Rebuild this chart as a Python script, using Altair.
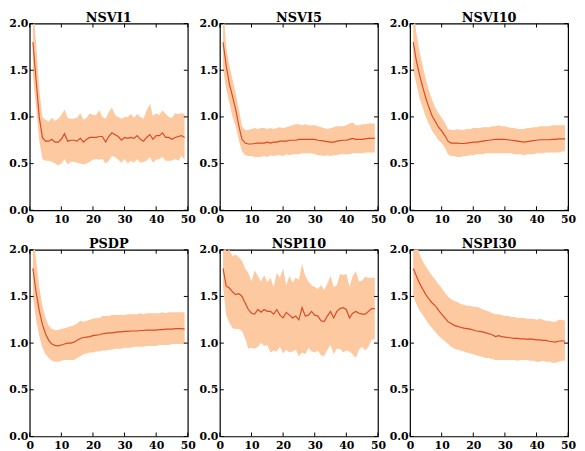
import altair as alt
import pandas as pd

x_vals = list(range(1, 50))
x_ticks = [0, 10, 20, 30, 40, 50]
y_ticks = [0.0, 0.5, 1.0, 1.5, 2.0]

titles = ["NSVI1", "NSVI5", "NSVI10", "PSDP", "NSPI10", "NSPI30"]

nsvi1_mean = [1.8, 1.4, 1.0, 0.78, 0.74, 0.74, 0.76, 0.73, 0.73, 0.76, 0.82, 0.74, 0.75, 0.75, 0.74, 0.77, 0.73,
              0.76, 0.78, 0.78, 0.78, 0.79, 0.79, 0.73, 0.79, 0.83, 0.81, 0.79, 0.75, 0.78, 0.77, 0.78, 0.77, 0.80,
              0.76, 0.74, 0.78, 0.81, 0.76, 0.80, 0.80, 0.83, 0.78, 0.78, 0.76, 0.78, 0.79, 0.80, 0.78]
nsvi1_hi = [2.2, 1.8, 1.3, 1.0, 0.97, 0.95, 0.99, 0.96, 0.98, 1.02, 1.08, 0.99, 0.98, 0.98, 0.99, 1.04, 0.97,
            0.99, 1.04, 1.02, 1.02, 1.07, 1.00, 0.98, 1.05, 1.10, 1.02, 1.00, 0.98, 1.00, 1.00, 1.03, 0.99, 1.03,
            1.00, 0.98, 1.07, 1.14, 1.01, 1.04, 1.02, 1.07, 1.03, 1.00, 0.99, 1.04, 1.03, 1.04, 1.03]
nsvi1_lo = [1.45, 1.1, 0.75, 0.55, 0.53, 0.53, 0.52, 0.50, 0.48, 0.50, 0.55, 0.49, 0.52, 0.52, 0.51, 0.50, 0.49,
            0.50, 0.52, 0.54, 0.55, 0.54, 0.55, 0.50, 0.53, 0.58, 0.57, 0.54, 0.51, 0.55, 0.50, 0.53, 0.51, 0.55,
            0.51, 0.52, 0.53, 0.57, 0.51, 0.54, 0.55, 0.57, 0.53, 0.53, 0.53, 0.55, 0.53, 0.58, 0.54]

nsvi5_mean = [1.8, 1.55, 1.35, 1.22, 1.08, 0.9, 0.76, 0.72, 0.71, 0.71, 0.715, 0.72, 0.72, 0.72, 0.73, 0.72, 0.73,
              0.73, 0.74, 0.74, 0.74, 0.75, 0.75, 0.75, 0.76, 0.76, 0.76, 0.76, 0.76, 0.76, 0.75, 0.745, 0.74,
              0.735, 0.73, 0.73, 0.74, 0.745, 0.75, 0.75, 0.76, 0.77, 0.76, 0.76, 0.76, 0.765, 0.77, 0.77, 0.77]
nsvi5_hi = [2.2, 1.75, 1.55, 1.4, 1.25, 1.08, 0.9, 0.86, 0.86, 0.87, 0.88, 0.87, 0.88, 0.88, 0.87, 0.88, 0.87,
            0.88, 0.89, 0.88, 0.89, 0.9, 0.91, 0.92, 0.92, 0.91, 0.92, 0.91, 0.91, 0.91, 0.90, 0.89, 0.88, 0.87,
            0.88, 0.89, 0.90, 0.90, 0.90, 0.91, 0.93, 0.94, 0.91, 0.91, 0.92, 0.92, 0.93, 0.93, 0.93]
nsvi5_lo = [1.5, 1.3, 1.15, 1.0, 0.9, 0.75, 0.63, 0.59, 0.58, 0.58, 0.57, 0.57, 0.57, 0.58, 0.57, 0.59, 0.58,
            0.59, 0.59, 0.58, 0.6, 0.59, 0.6, 0.6, 0.6, 0.61, 0.61, 0.61, 0.61, 0.60, 0.59, 0.59, 0.58, 0.59,
            0.58, 0.59, 0.59, 0.6, 0.6, 0.6, 0.6, 0.61, 0.61, 0.61, 0.61, 0.62, 0.62, 0.62, 0.62]

nsvi10_mean = [1.8, 1.6, 1.45, 1.32, 1.2, 1.1, 1.01, 0.95, 0.89, 0.85, 0.80, 0.74, 0.72, 0.72, 0.72, 0.715, 0.715,
               0.72, 0.725, 0.73, 0.73, 0.735, 0.74, 0.745, 0.75, 0.755, 0.76, 0.76, 0.76, 0.76, 0.755, 0.75,
               0.745, 0.74, 0.735, 0.73, 0.735, 0.74, 0.745, 0.75, 0.755, 0.755, 0.755, 0.755, 0.76, 0.76,
               0.765, 0.765, 0.765]
nsvi10_hi = [2.2, 1.9, 1.7, 1.55, 1.4, 1.28, 1.18, 1.1, 1.04, 0.99, 0.94, 0.87, 0.86, 0.86, 0.87, 0.86, 0.86,
             0.87, 0.87, 0.88, 0.88, 0.88, 0.89, 0.89, 0.89, 0.90, 0.90, 0.91, 0.90, 0.90, 0.89, 0.88, 0.88,
             0.87, 0.87, 0.87, 0.88, 0.88, 0.89, 0.89, 0.9, 0.9, 0.9, 0.9, 0.91, 0.91, 0.91, 0.91, 0.91]
nsvi10_lo = [1.5, 1.35, 1.2, 1.1, 1.0, 0.92, 0.85, 0.80, 0.75, 0.72, 0.67, 0.60, 0.58, 0.58, 0.57, 0.57, 0.58,
             0.58, 0.59, 0.59, 0.6, 0.6, 0.6, 0.61, 0.61, 0.61, 0.61, 0.61, 0.61, 0.61, 0.61, 0.61, 0.6, 0.6,
             0.6, 0.59, 0.6, 0.6, 0.6, 0.61, 0.61, 0.61, 0.62, 0.62, 0.62, 0.62, 0.62, 0.63, 0.63]

psdp_mean = [1.8, 1.55, 1.35, 1.2, 1.1, 1.03, 0.99, 0.975, 0.97, 0.98, 0.99, 1.0, 1.0, 1.01, 1.03, 1.05, 1.06,
             1.065, 1.07, 1.08, 1.085, 1.09, 1.1, 1.105, 1.11, 1.11, 1.115, 1.12, 1.12, 1.125, 1.125, 1.13, 1.13,
             1.13, 1.135, 1.135, 1.14, 1.14, 1.14, 1.14, 1.145, 1.145, 1.15, 1.15, 1.15, 1.155, 1.155, 1.155, 1.15]
psdp_hi = [2.2, 1.9, 1.6, 1.4, 1.27, 1.19, 1.15, 1.14, 1.14, 1.15, 1.16, 1.17, 1.18, 1.19, 1.21, 1.24, 1.23,
           1.24, 1.25, 1.26, 1.27, 1.27, 1.29, 1.29, 1.29, 1.30, 1.30, 1.30, 1.30, 1.30, 1.31, 1.31, 1.31, 1.31,
           1.32, 1.31, 1.32, 1.32, 1.32, 1.32, 1.32, 1.33, 1.32, 1.33, 1.33, 1.33, 1.33, 1.33, 1.33]
psdp_lo = [1.5, 1.25, 1.08, 0.95, 0.88, 0.84, 0.81, 0.80, 0.80, 0.81, 0.82, 0.82, 0.82, 0.82, 0.84, 0.86, 0.88,
           0.89, 0.90, 0.90, 0.91, 0.91, 0.92, 0.92, 0.93, 0.93, 0.94, 0.94, 0.94, 0.95, 0.95, 0.95, 0.96, 0.96,
           0.96, 0.96, 0.97, 0.97, 0.97, 0.97, 0.98, 0.98, 0.98, 0.98, 0.99, 0.99, 0.99, 0.99, 0.99]

nspi10_mean = [1.8, 1.61, 1.59, 1.55, 1.52, 1.53, 1.50, 1.43, 1.36, 1.32, 1.31, 1.36, 1.33, 1.36, 1.34, 1.34, 1.31,
               1.36, 1.30, 1.27, 1.33, 1.30, 1.27, 1.29, 1.25, 1.38, 1.29, 1.30, 1.34, 1.30, 1.29, 1.24, 1.23,
               1.29, 1.34, 1.27, 1.34, 1.37, 1.38, 1.36, 1.27, 1.32, 1.34, 1.32, 1.31, 1.31, 1.34, 1.37, 1.37]
nspi10_hi = [2.2, 1.98, 2.0, 1.93, 1.95, 1.92, 1.88, 1.80, 1.75, 1.66, 1.78, 1.72, 1.66, 1.73, 1.65, 1.70, 1.60,
             1.75, 1.70, 1.80, 1.62, 1.72, 1.65, 1.70, 1.68, 1.85, 1.72, 1.66, 1.62, 1.60, 1.58, 1.62, 1.57,
             1.64, 1.72, 1.60, 1.62, 1.74, 1.73, 1.74, 1.60, 1.72, 1.77, 1.66, 1.67, 1.71, 1.70, 1.70, 1.70]
nspi10_lo = [1.6, 1.3, 1.22, 1.16, 1.15, 1.15, 1.13, 1.05, 0.94, 0.95, 0.94, 0.96, 1.0, 0.97, 0.98, 0.90, 0.92,
             0.91, 0.96, 0.89, 0.93, 0.90, 0.91, 0.93, 0.86, 0.90, 0.88, 0.95, 0.91, 0.90, 0.92, 0.87, 0.86,
             0.93, 0.98, 0.88, 0.94, 0.94, 0.90, 0.92, 0.91, 0.88, 0.84, 0.93, 0.96, 0.92, 0.96, 1.04, 1.04]

nspi30_mean = [1.8, 1.72, 1.64, 1.58, 1.52, 1.47, 1.43, 1.40, 1.35, 1.31, 1.27, 1.23, 1.21, 1.19, 1.18, 1.17, 1.16,
               1.155, 1.15, 1.14, 1.13, 1.125, 1.12, 1.11, 1.10, 1.09, 1.07, 1.08, 1.07, 1.065, 1.06, 1.055, 1.05,
               1.05, 1.045, 1.045, 1.04, 1.045, 1.04, 1.035, 1.035, 1.03, 1.03, 1.02, 1.015, 1.01, 1.02, 1.025, 1.02]
nspi30_hi = [2.2, 2.1, 1.95, 1.88, 1.82, 1.77, 1.72, 1.68, 1.63, 1.59, 1.54, 1.50, 1.47, 1.45, 1.44, 1.42, 1.41,
             1.40, 1.40, 1.39, 1.39, 1.38, 1.36, 1.35, 1.34, 1.32, 1.31, 1.31, 1.30, 1.29, 1.29, 1.28, 1.28,
             1.27, 1.27, 1.27, 1.26, 1.26, 1.26, 1.25, 1.26, 1.25, 1.24, 1.24, 1.23, 1.23, 1.25, 1.25, 1.24]
nspi30_lo = [1.5, 1.42, 1.35, 1.3, 1.25, 1.2, 1.16, 1.12, 1.08, 1.05, 1.02, 0.99, 0.96, 0.94, 0.93, 0.92, 0.91,
             0.90, 0.89, 0.88, 0.87, 0.86, 0.85, 0.84, 0.84, 0.83, 0.82, 0.82, 0.82, 0.82, 0.82, 0.82, 0.82,
             0.81, 0.82, 0.82, 0.82, 0.81, 0.81, 0.80, 0.80, 0.81, 0.80, 0.80, 0.79, 0.79, 0.80, 0.81, 0.81]

series = [
    (nsvi1_mean, nsvi1_lo, nsvi1_hi),
    (nsvi5_mean, nsvi5_lo, nsvi5_hi),
    (nsvi10_mean, nsvi10_lo, nsvi10_hi),
    (psdp_mean, psdp_lo, psdp_hi),
    (nspi10_mean, nspi10_lo, nspi10_hi),
    (nspi30_mean, nspi30_lo, nspi30_hi),
]

W, H = 160, 189
TL = 4
FONT = "DejaVu Serif"
BAND = "#fdc9a1"
LINE = "#dc4a22"

xaxis = alt.Axis(values=x_ticks, format="d", title=None, domain=False, ticks=False, grid=False,
                 labelFlush=False, labelPadding=3, labelFont=FONT, labelFontWeight="bold",
                 labelFontSize=11, labelColor="black", labelOverlap=False)
yaxis = alt.Axis(values=y_ticks, format=".1f", title=None, domain=False, ticks=False, grid=False,
                 labelFlush=False, labelPadding=2, labelFont=FONT, labelFontWeight="bold",
                 labelFontSize=11, labelColor="black", labelOverlap=False)
xs = alt.Scale(domain=[0, 50], nice=False, zero=False)
ys = alt.Scale(domain=[0, 2], nice=False, zero=False)


def panel(title, mean, lo, hi):
    df = pd.DataFrame({"x": x_vals, "mean": mean, "lo": lo, "hi": hi})
    base = alt.Chart(df)
    band = base.mark_area(color=BAND, clip=True).encode(
        x=alt.X("x:Q", scale=xs, axis=xaxis),
        y=alt.Y("lo:Q", scale=ys, axis=yaxis),
        y2="hi:Q",
    )
    line = base.mark_line(color=LINE, strokeWidth=1.2, clip=True).encode(
        x=alt.X("x:Q", scale=xs, axis=xaxis),
        y=alt.Y("mean:Q", scale=ys, axis=yaxis),
    )
    tx = alt.Chart(pd.DataFrame({"t": x_ticks}))
    ty = alt.Chart(pd.DataFrame({"t": y_ticks}))
    xb = tx.mark_rule(color="black", strokeWidth=1).encode(
        x=alt.X("t:Q", scale=xs, axis=xaxis), y=alt.value(H), y2=alt.value(H - TL))
    xt = tx.mark_rule(color="black", strokeWidth=1).encode(
        x=alt.X("t:Q", scale=xs, axis=xaxis), y=alt.value(0), y2=alt.value(TL))
    yl = ty.mark_rule(color="black", strokeWidth=1).encode(
        y=alt.Y("t:Q", scale=ys, axis=yaxis), x=alt.value(0), x2=alt.value(TL))
    yr = ty.mark_rule(color="black", strokeWidth=1).encode(
        y=alt.Y("t:Q", scale=ys, axis=yaxis), x=alt.value(W - TL), x2=alt.value(W))
    ttl = alt.Chart(pd.DataFrame({"name": [title]})).mark_text(
        font=FONT, fontWeight="bold", fontSize=13, color="black",
        align="center", baseline="alphabetic"
    ).encode(text="name:N", x=alt.value(W / 2), y=alt.value(-2))
    return alt.layer(band, line, xb, xt, yl, yr, ttl).properties(width=W, height=H)


panels = [panel(t, *s) for t, s in zip(titles, series)]
row1 = alt.hconcat(*panels[:3], spacing=32.5, bounds="flush")
row2 = alt.hconcat(*panels[3:], spacing=32.5, bounds="flush")
chart = alt.vconcat(row1, row2, spacing=12).properties(padding=0).configure_view(
    stroke="black", strokeWidth=1.2
)

chart.save("out.html", embed_options={"renderer": "svg", "actions": False})
